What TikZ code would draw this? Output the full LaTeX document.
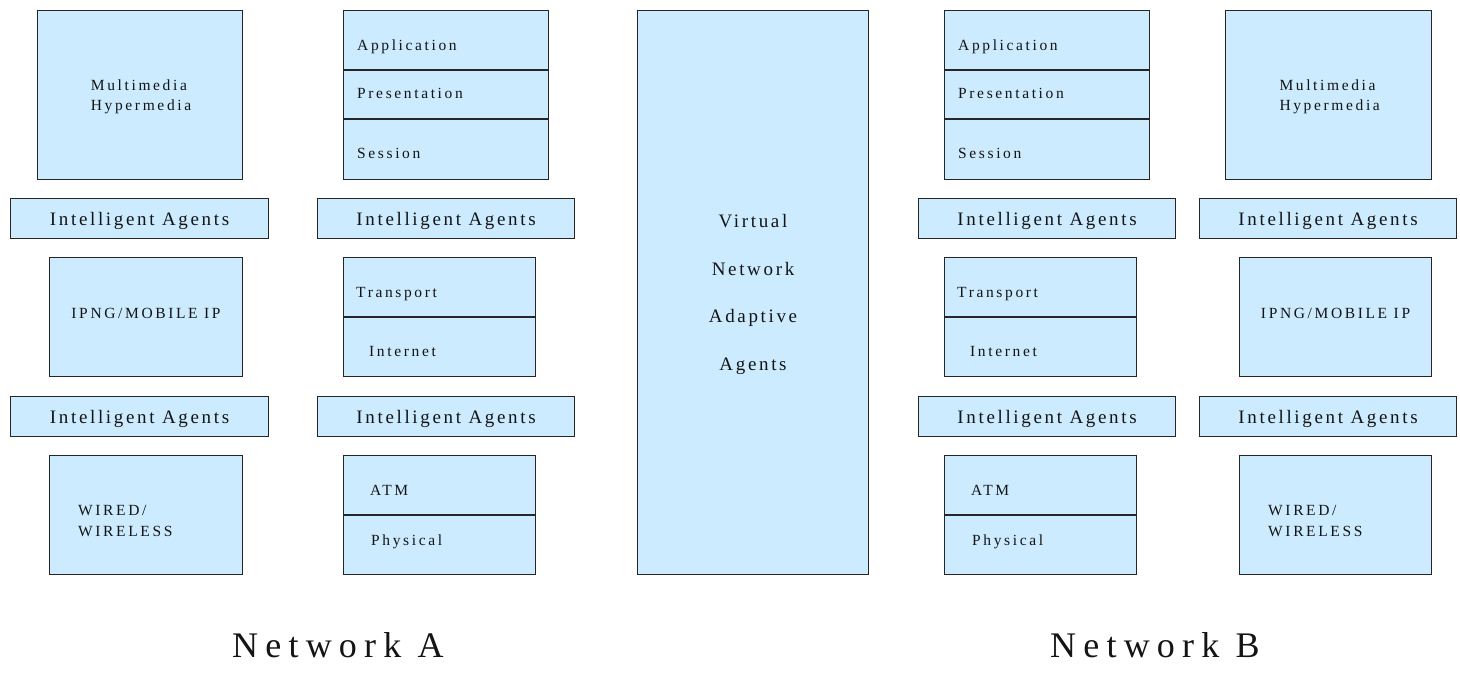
\documentclass[tikz,border=0pt]{standalone}
\usepackage{fontspec}
\setmainfont{Liberation Serif}
\newfontfamily\smallfont[LetterSpace=17]{Liberation Serif}
\newfontfamily\iafont[LetterSpace=14]{Liberation Serif}
\newfontfamily\netfont[LetterSpace=20]{Liberation Serif}
\definecolor{boxblue}{RGB}{204,235,255}
\definecolor{ink}{RGB}{20,20,20}
\begin{document}
\begin{tikzpicture}[x=1pt,y=-1pt,
  box/.style={draw=black!85, fill=boxblue, line width=1.1pt, inner sep=0pt, anchor=north west},
  sep/.style={draw=black!85, line width=1.1pt},
  lbl/.style={inner sep=0pt, anchor=base west, text=ink, font=\smallfont\fontsize{15.5}{19}\selectfont},
  clbl/.style={lbl, anchor=base},
  ialbl/.style={inner sep=0pt, anchor=base, text=ink, font=\iafont\fontsize{19}{23}\selectfont},
  netlbl/.style={inner sep=0pt, anchor=base west, text=ink, font=\netfont\fontsize{36}{40}\selectfont}]
\useasboundingbox (0,0) rectangle (1460,676);
% row 1 boxes
\node[box, minimum width=205pt, minimum height=169pt] (mmA) at (36.7,10) {};
\node[box, minimum width=205pt, minimum height=169pt] (osiA) at (343,10) {};
\node[box, minimum width=231pt, minimum height=564pt] (vna) at (637,10) {};
\node[box, minimum width=205pt, minimum height=169pt] (osiB) at (944,10) {};
\node[box, minimum width=206pt, minimum height=169pt] (mmB) at (1225,10) {};
% intelligent agents rows
\node[box, minimum width=258pt, minimum height=40pt] (iaA1) at (10,198) {};
\node[box, minimum width=257pt, minimum height=40pt] (iaA2) at (317,198) {};
\node[box, minimum width=257pt, minimum height=40pt] (iaB1) at (918,198) {};
\node[box, minimum width=257pt, minimum height=40pt] (iaB2) at (1199,198) {};
\node[box, minimum width=258pt, minimum height=40pt] (iaA3) at (10,396) {};
\node[box, minimum width=257pt, minimum height=40pt] (iaA4) at (317,396) {};
\node[box, minimum width=257pt, minimum height=40pt] (iaB3) at (918,396) {};
\node[box, minimum width=257pt, minimum height=40pt] (iaB4) at (1199,396) {};
% row 2 boxes
\node[box, minimum width=193pt, minimum height=119pt] (ipA) at (49,257) {};
\node[box, minimum width=192pt, minimum height=119pt] (trA) at (343,257) {};
\node[box, minimum width=192pt, minimum height=119pt] (trB) at (944,257) {};
\node[box, minimum width=192pt, minimum height=119pt] (ipB) at (1239,257) {};
% row 3 boxes
\node[box, minimum width=193pt, minimum height=119pt] (wA) at (49,455) {};
\node[box, minimum width=192pt, minimum height=119pt] (atmA) at (343,455) {};
\node[box, minimum width=192pt, minimum height=119pt] (atmB) at (944,455) {};
\node[box, minimum width=192pt, minimum height=119pt] (wB) at (1239,455) {};
% dividers
\foreach \b in {osiA,osiB}{
  \draw[sep] (\b.west |- 0,70) -- (\b.east |- 0,70);
  \draw[sep] (\b.west |- 0,119) -- (\b.east |- 0,119);
}
\foreach \b in {trA,trB}{ \draw[sep] (\b.west |- 0,317) -- (\b.east |- 0,317); }
\foreach \b in {atmA,atmB}{ \draw[sep] (\b.west |- 0,515) -- (\b.east |- 0,515); }
% intelligent agents labels
\foreach \b in {iaA1,iaA2,iaB1,iaB2}{ \node[ialbl] (\b-t) at (\b.center |- 0,226) {Intelligent Agents}; }
\foreach \b in {iaA3,iaA4,iaB3,iaB4}{ \node[ialbl] (\b-t) at (\b.center |- 0,423) {Intelligent Agents}; }
% multimedia
\node[lbl] (mmA-1) at (90.7,91) {Multimedia};
\node[lbl] (mmA-2) at (90.7,111) {Hypermedia};
\node[lbl] (mmB-1) at (1279.3,91) {Multimedia};
\node[lbl] (mmB-2) at (1279.3,111) {Hypermedia};
% OSI upper
\node[lbl] (appA) at (357,51) {Application};
\node[lbl] (preA) at (357,99) {Presentation};
\node[lbl] (sesA) at (357,159) {Session};
\node[lbl] (appB) at (958,51) {Application};
\node[lbl] (preB) at (958,99) {Presentation};
\node[lbl] (sesB) at (958,159) {Session};
% transport / internet
\node[lbl] (traA) at (356,298) {Transport};
\node[lbl] (intA) at (369,357) {Internet};
\node[lbl] (traB) at (957,298) {Transport};
\node[lbl] (intB) at (970,357) {Internet};
% ATM / physical
\node[lbl] (atA) at (370,495) {ATM};
\node[lbl] (phA) at (371,545) {Physical};
\node[lbl] (atB) at (971,495) {ATM};
\node[lbl] (phB) at (972,545) {Physical};
% IPNG
\node[clbl] (ipA-t) at (ipA.center |- 0,319) {IPNG/MOBILE IP};
\node[clbl] (ipB-t) at (ipB.center |- 0,319) {IPNG/MOBILE IP};
% wired
\node[lbl] (wA-1) at (78,515) {WIRED/};
\node[lbl] (wA-2) at (78,536) {WIRELESS};
\node[lbl] (wB-1) at (1268,515) {WIRED/};
\node[lbl] (wB-2) at (1268,536) {WIRELESS};
% center
\node[ialbl] (v1) at (vna.center |- 0,228) {Virtual};
\node[ialbl] (v2) at (vna.center |- 0,276) {Network};
\node[ialbl] (v3) at (vna.center |- 0,323) {Adaptive};
\node[ialbl] (v4) at (vna.center |- 0,371) {Agents};
% network labels
\node[netlbl] (netA) at (232,657) {Network A};
\node[netlbl] (netB) at (1050,657) {Network B};
\end{tikzpicture}
\end{document}
